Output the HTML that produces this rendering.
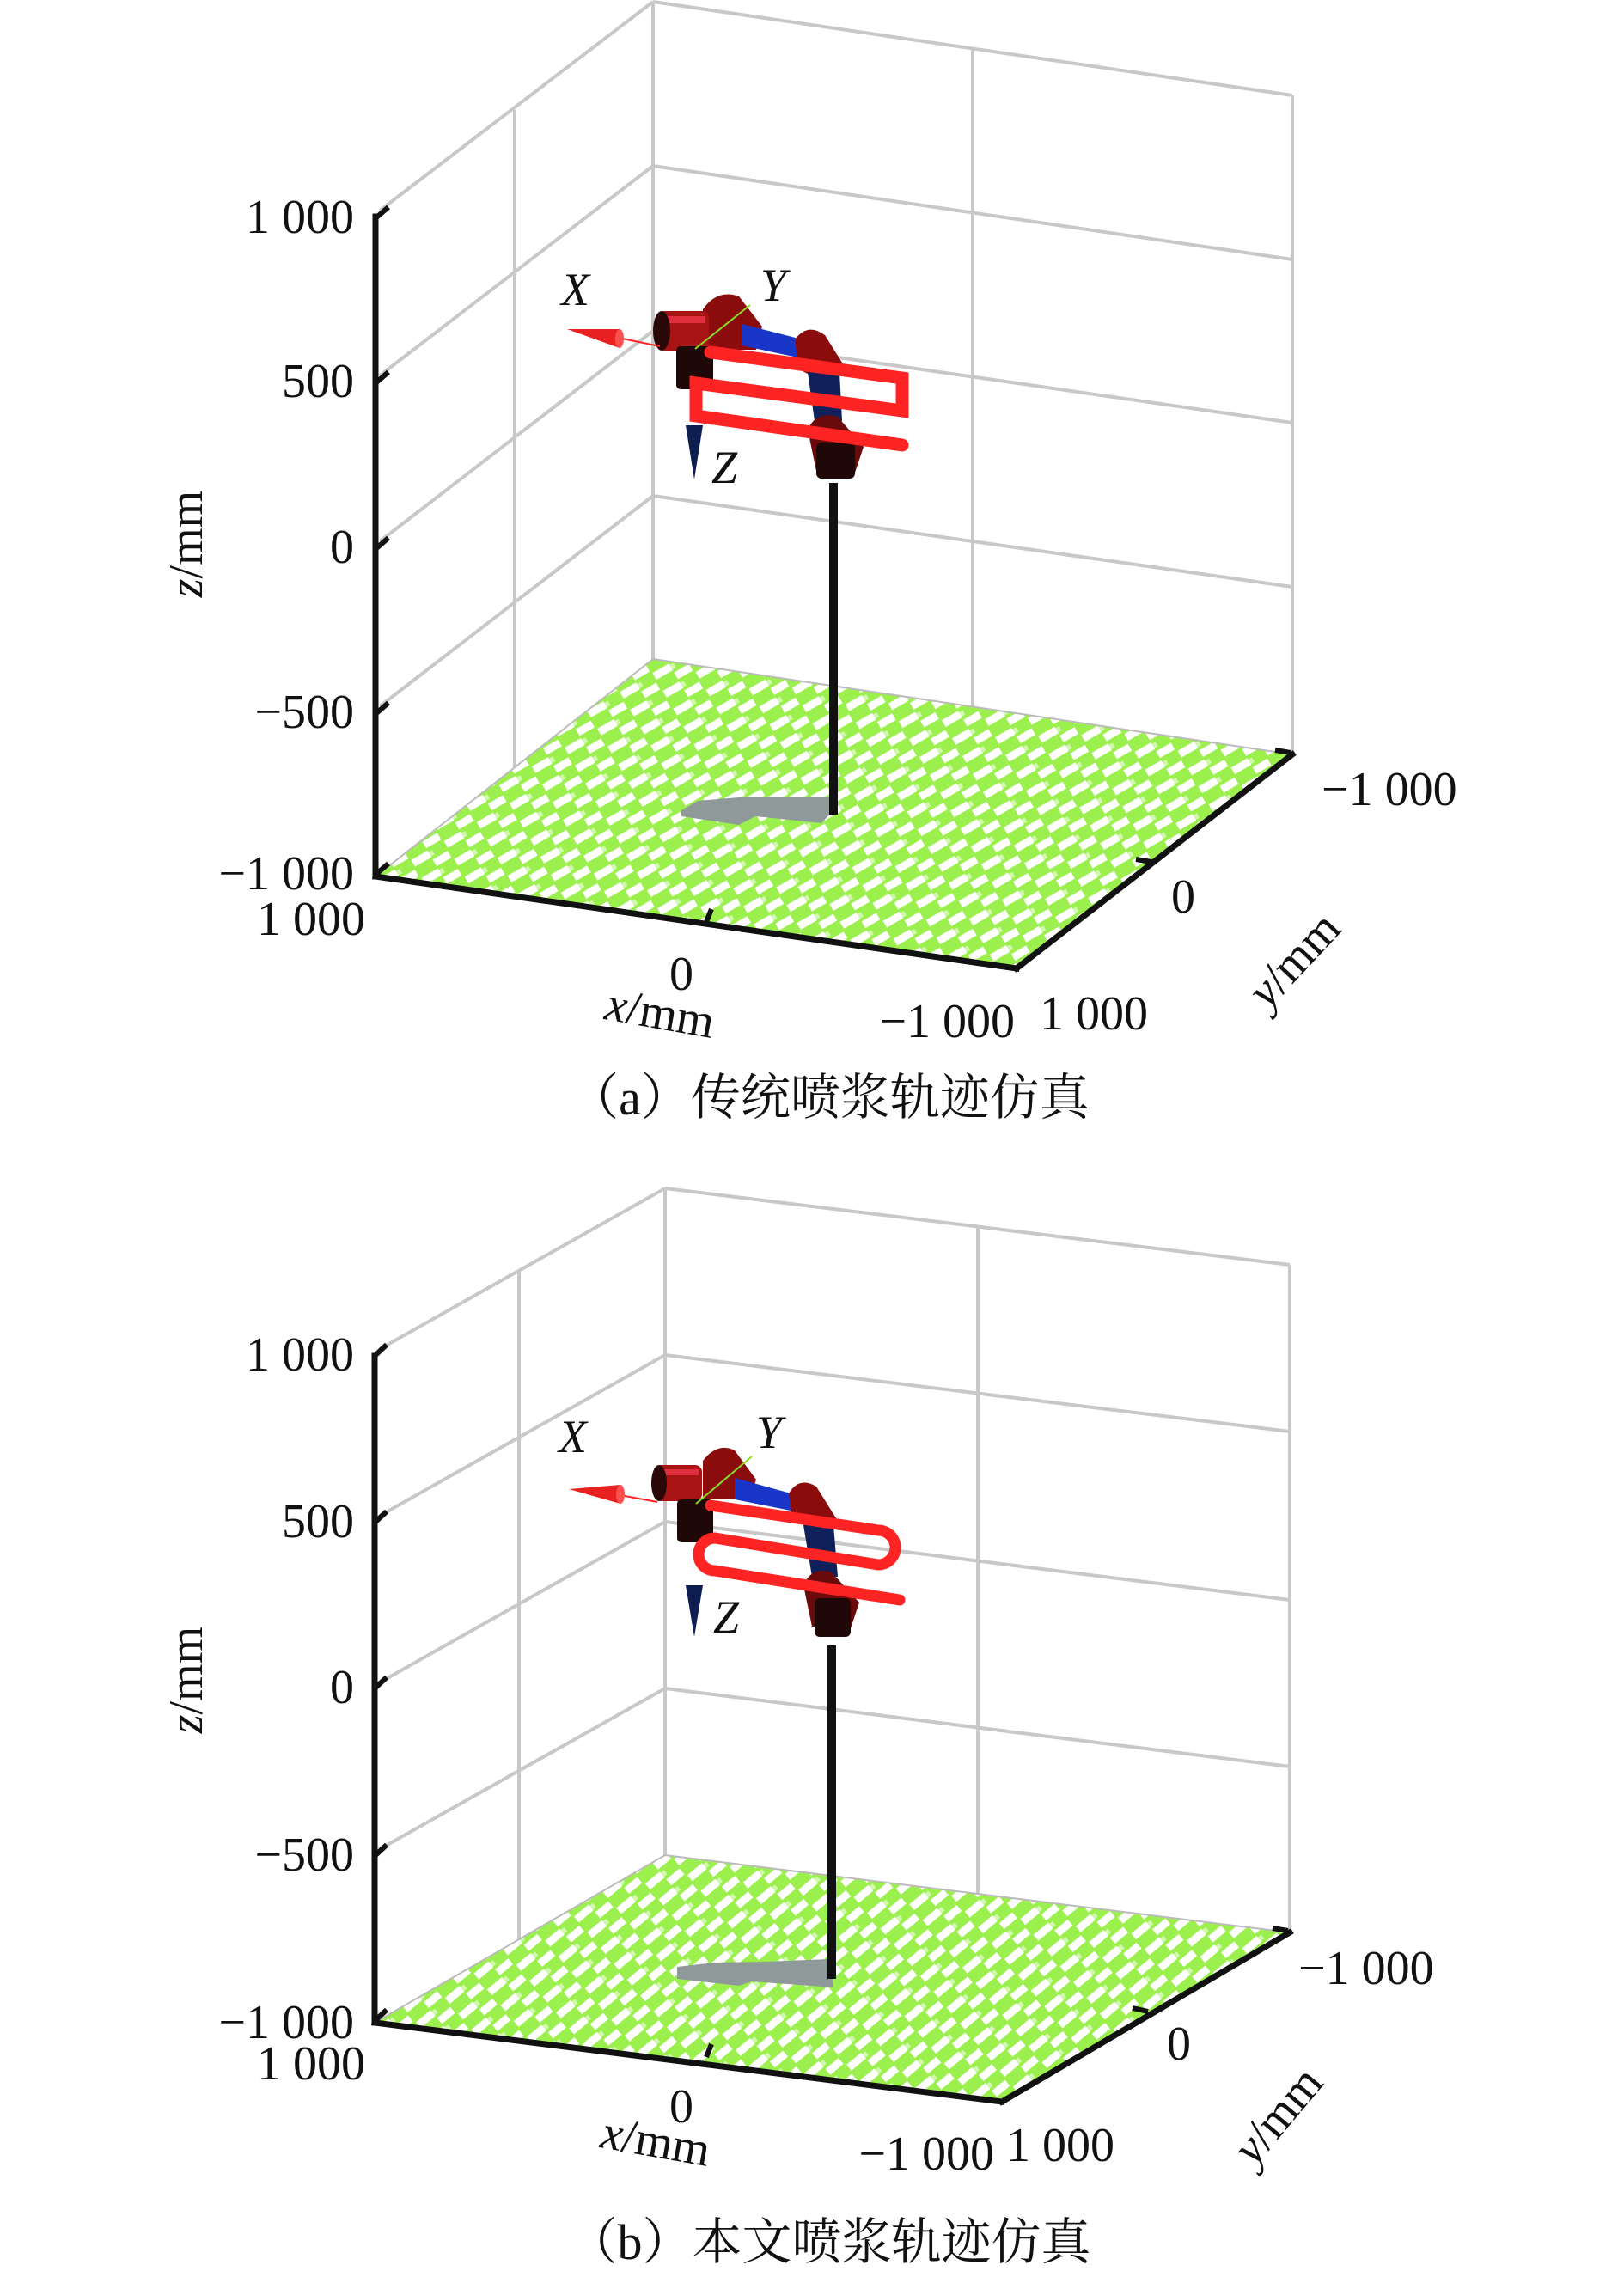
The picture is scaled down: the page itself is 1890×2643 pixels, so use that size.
<!DOCTYPE html>
<html><head><meta charset="utf-8"><style>
html,body{margin:0;padding:0;background:#fff;}
svg{display:block;}
text{font-family:"Liberation Serif","Noto Serif CJK SC",serif;fill:#111;}
</style></head><body>
<svg width="1890" height="2643" viewBox="0 0 1890 2643" xmlns="http://www.w3.org/2000/svg">
<defs>
<pattern id="fl" width="44" height="24" patternUnits="userSpaceOnUse" patternTransform="rotate(-30)">
<rect width="44" height="24" fill="#9cf04e"/>
<rect x="2" y="2" width="22" height="9" fill="#fff"/>
<rect x="24" y="14" width="20" height="9" fill="#fff"/>
<rect x="24" y="4" width="5" height="6" fill="#d2f8b0"/>
</pattern>
<pattern id="fl2" width="44" height="24" patternUnits="userSpaceOnUse" patternTransform="rotate(-40)">
<rect width="44" height="24" fill="#9cf04e"/>
<rect x="2" y="2" width="22" height="9" fill="#fff"/>
<rect x="24" y="14" width="20" height="9" fill="#fff"/>
<rect x="24" y="4" width="5" height="6" fill="#d2f8b0"/>
</pattern>
</defs>

<!-- ===== TOP PLOT ===== -->
<g stroke="#c8c8c8" stroke-width="4" fill="none">
<line x1="760" y1="2" x2="760" y2="767"/>
<line x1="1504" y1="111" x2="1504" y2="878"/>
<line x1="1132" y1="55" x2="1132" y2="822"/>
<line x1="599" y1="128" x2="599" y2="893"/>
<line x1="760" y1="2" x2="1504" y2="111"/>
<line x1="760" y1="193" x2="1504" y2="302"/>
<line x1="760" y1="385" x2="1504" y2="492"/>
<line x1="760" y1="577" x2="1504" y2="683"/>
<line x1="442" y1="245" x2="760" y2="2"/>
<line x1="442" y1="437" x2="760" y2="193"/>
<line x1="442" y1="630" x2="760" y2="385"/>
<line x1="442" y1="822" x2="760" y2="577"/>
</g>
<polygon points="437,1020 1183,1127 1504,878 760,767" fill="url(#fl)"/>
<polyline points="437,1020 760,767 1504,878" fill="none" stroke="#bbb" stroke-width="2"/>
<polygon points="793,943 812,932 860,928 966,928 966,947 956,958 879,950 860,960 793,950" fill="#8f9999"/>
<rect x="965" y="562" width="10" height="386" fill="#111"/>
<g stroke="#111" stroke-width="7" fill="none" stroke-linecap="square">
<line x1="437" y1="252" x2="437" y2="1020"/>
<line x1="437" y1="1020" x2="1183" y2="1127"/>
<line x1="1183" y1="1127" x2="1504" y2="878"/>
</g>
<g stroke="#111" stroke-width="6">
<line x1="437" y1="254" x2="452" y2="241"/>
<line x1="437" y1="446" x2="452" y2="433"/>
<line x1="437" y1="639" x2="452" y2="626"/>
<line x1="437" y1="831" x2="452" y2="818"/>
<line x1="437" y1="1018" x2="452" y2="1005"/>
<line x1="822" y1="1073" x2="828" y2="1058"/>
<line x1="1340" y1="1003" x2="1322" y2="1000"/>
<line x1="1502" y1="876" x2="1484" y2="873"/>
</g>
<g>
<path d="M818,360 Q835,336 860,345 L887,380 L880,407 L818,407Z" fill="#8a0c0c"/>
<rect x="765" y="362" width="60" height="46" rx="8" fill="#a81414"/>
<rect x="770" y="368" width="50" height="8" fill="#e03040"/>
<ellipse cx="770" cy="385" rx="10" ry="23" fill="#2a0808"/>
<rect x="787" y="403" width="43" height="50" rx="5" fill="#1e0808"/>
<polygon points="863,377 953,400 960,412 947,420 863,402" fill="#1a36c8"/>
<path d="M925,395 Q940,375 960,390 L985,430 L960,445 L930,430Z" fill="#8a0c0c"/>
<polygon points="940,433 977,433 980,490 948,490" fill="#10205a"/>
<path d="M940,500 Q950,478 975,485 L1005,520 L995,550 L950,548Z" fill="#6a0a0a"/>
<rect x="950" y="515" width="45" height="42" rx="6" fill="#200808"/>
</g>
<line x1="700" y1="389" x2="768" y2="403" stroke="#ff2020" stroke-width="2"/>
<polygon points="660,383 721,383 721,405" fill="#e82020"/>
<ellipse cx="721" cy="394" rx="5" ry="11" fill="#ff5050"/>
<line x1="809" y1="406" x2="873" y2="355" stroke="#88dd22" stroke-width="2"/>
<polygon points="798,495 818,495 808,558" fill="#0f1e50"/>
<path d="M827,410 L1050,440 L1050,478 L810,446 L810,484 L1050,518" fill="none" stroke="#ff2424" stroke-width="15" stroke-linecap="round" stroke-linejoin="miter"/>
<g font-style="italic" font-size="54">
<text x="653" y="355">X</text>
<text x="885" y="350">Y</text>
<text x="828" y="562">Z</text>
</g>
<g font-size="56">
<g text-anchor="end">
<text x="412" y="271">1 000</text>
<text x="412" y="462">500</text>
<text x="412" y="655">0</text>
<text x="412" y="847">−500</text>
<text x="412" y="1035">−1 000</text>
<text x="425" y="1088">1 000</text>
<text x="1181" y="1207">−1 000</text>
</g>
<text x="793" y="1152" text-anchor="middle">0</text>
<text x="1210" y="1198">1 000</text>
<text x="1377" y="1062" text-anchor="middle">0</text>
<text x="1538" y="937">−1 000</text>
<text transform="translate(765,1197) rotate(10)" text-anchor="middle" font-style="italic">x<tspan font-style="normal">/mm</tspan></text>
<text transform="translate(1506,1117) rotate(-47)" text-anchor="middle" dy="18" font-style="italic">y<tspan font-style="normal">/mm</tspan></text>
<text transform="translate(235,633) rotate(-90)" text-anchor="middle" font-style="italic">z<tspan font-style="normal">/mm</tspan></text>
</g>
<text x="965" y="1297" text-anchor="middle" font-size="58">（a）传统喷浆轨迹仿真</text>

<!-- ===== BOTTOM PLOT ===== -->
<g stroke="#c8c8c8" stroke-width="4" fill="none">
<line x1="774" y1="1383" x2="774" y2="2159"/>
<line x1="1501" y1="1472" x2="1501" y2="2249"/>
<line x1="1138" y1="1427" x2="1138" y2="2204"/>
<line x1="604" y1="1479" x2="604" y2="2257"/>
<line x1="774" y1="1383" x2="1501" y2="1472"/>
<line x1="774" y1="1577" x2="1501" y2="1666"/>
<line x1="774" y1="1771" x2="1501" y2="1862"/>
<line x1="774" y1="1965" x2="1501" y2="2056"/>
<line x1="442" y1="1570" x2="774" y2="1383"/>
<line x1="442" y1="1764" x2="774" y2="1577"/>
<line x1="442" y1="1958" x2="774" y2="1771"/>
<line x1="442" y1="2152" x2="774" y2="1965"/>
</g>
<polygon points="436,2354 1166,2446 1501,2249 774,2159" fill="url(#fl2)"/>
<polyline points="436,2354 774,2159 1501,2249" fill="none" stroke="#bbb" stroke-width="2"/>
<polygon points="788,2289 832,2284 889,2283 966,2280 970,2313 875,2306 860,2311 788,2303" fill="#8f9999"/>
<rect x="963" y="1915" width="10" height="388" fill="#111"/>
<g stroke="#111" stroke-width="7" fill="none" stroke-linecap="square">
<line x1="436" y1="1578" x2="436" y2="2354"/>
<line x1="436" y1="2354" x2="1166" y2="2446"/>
<line x1="1166" y1="2446" x2="1501" y2="2249"/>
</g>
<g stroke="#111" stroke-width="6">
<line x1="436" y1="1578" x2="450" y2="1565"/>
<line x1="436" y1="1772" x2="450" y2="1759"/>
<line x1="436" y1="1965" x2="450" y2="1952"/>
<line x1="436" y1="2160" x2="450" y2="2147"/>
<line x1="436" y1="2352" x2="450" y2="2339"/>
<line x1="822" y1="2394" x2="828" y2="2379"/>
<line x1="1336" y1="2341" x2="1318" y2="2337"/>
<line x1="1499" y1="2247" x2="1481" y2="2244"/>
</g>
<g>
<path d="M818,1700 Q835,1678 855,1688 L880,1722 L872,1745 L818,1745Z" fill="#8a0c0c"/>
<rect x="762" y="1705" width="55" height="42" rx="8" fill="#a81414"/>
<rect x="768" y="1710" width="45" height="7" fill="#e03040"/>
<ellipse cx="767" cy="1726" rx="9" ry="21" fill="#2a0808"/>
<rect x="788" y="1745" width="42" height="50" rx="5" fill="#1e0808"/>
<polygon points="855,1720 935,1742 942,1752 930,1760 855,1745" fill="#1a36c8"/>
<path d="M918,1738 Q930,1718 950,1730 L975,1770 L950,1782 L922,1768Z" fill="#8a0c0c"/>
<polygon points="935,1775 970,1775 975,1835 945,1835" fill="#10205a"/>
<path d="M935,1845 Q945,1822 968,1830 L1000,1865 L990,1895 L945,1893Z" fill="#6a0a0a"/>
<rect x="948" y="1860" width="42" height="45" rx="6" fill="#200808"/>
</g>
<line x1="700" y1="1736" x2="765" y2="1748" stroke="#ff2020" stroke-width="2"/>
<polygon points="662,1733 722,1728 722,1750" fill="#e82020"/>
<ellipse cx="722" cy="1739" rx="5" ry="11" fill="#ff5050"/>
<line x1="810" y1="1750" x2="875" y2="1695" stroke="#88dd22" stroke-width="2"/>
<polygon points="798,1845 818,1845 808,1905" fill="#0f1e50"/>
<path d="M827,1752 L1022,1781 A20,20 0 0 1 1022,1821 L832,1790 A19,19 0 0 0 832,1828 L1047,1862" fill="none" stroke="#ff2424" stroke-width="13" stroke-linecap="round"/>
<g font-style="italic" font-size="54">
<text x="650" y="1690">X</text>
<text x="880" y="1685">Y</text>
<text x="830" y="1900">Z</text>
</g>
<g font-size="56">
<g text-anchor="end">
<text x="412" y="1595">1 000</text>
<text x="412" y="1789">500</text>
<text x="412" y="1982">0</text>
<text x="412" y="2177">−500</text>
<text x="412" y="2372">−1 000</text>
<text x="425" y="2420">1 000</text>
<text x="1157" y="2525">−1 000</text>
</g>
<text x="793" y="2470" text-anchor="middle">0</text>
<text x="1171" y="2515">1 000</text>
<text x="1372" y="2397" text-anchor="middle">0</text>
<text x="1511" y="2309">−1 000</text>
<text transform="translate(760,2510) rotate(10)" text-anchor="middle" font-style="italic">x<tspan font-style="normal">/mm</tspan></text>
<text transform="translate(1487,2462) rotate(-50)" text-anchor="middle" dy="18" font-style="italic">y<tspan font-style="normal">/mm</tspan></text>
<text transform="translate(235,1955) rotate(-90)" text-anchor="middle" font-style="italic">z<tspan font-style="normal">/mm</tspan></text>
</g>
<text x="965" y="2629" text-anchor="middle" font-size="58">（b）本文喷浆轨迹仿真</text>
</svg>
</body></html>
